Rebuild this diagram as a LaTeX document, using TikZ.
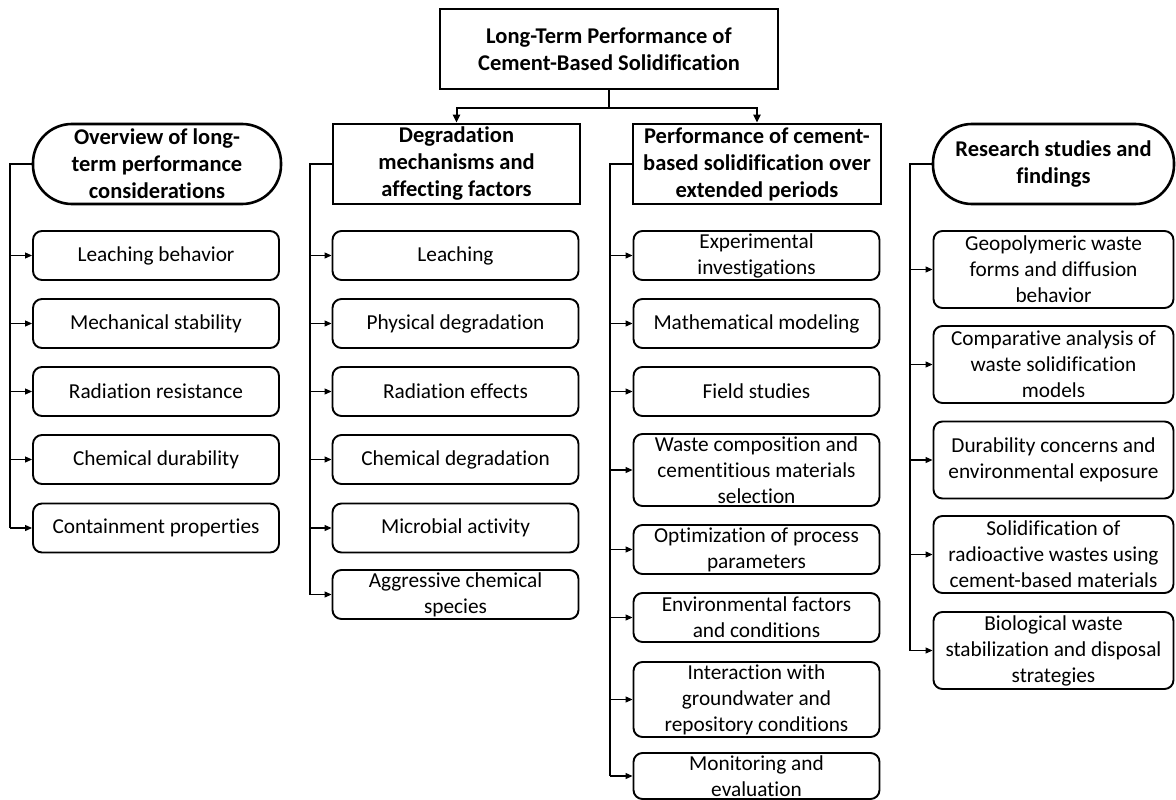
\documentclass[tikz,border=0pt]{standalone}
\usepackage{fontspec}
\setmainfont{Carlito}[Ligatures={NoCommon}]
\usetikzlibrary{arrows.meta}
\tikzset{
  hdr/.style={draw, line width=2.6pt, minimum height=80pt, inner sep=0pt, align=center,
    font=\fontsize{22.5}{27}\selectfont\bfseries},
  topbox/.style={hdr, minimum width=338pt},
  sqhdr/.style={hdr},
  pill/.style={hdr, rounded corners=39pt},
  child/.style={draw, line width=1.9pt, rounded corners=9pt, inner sep=0pt, align=center,
    font=\fontsize{21.3}{26}\selectfont},
  conn/.style={line width=1.1pt},
  arr/.style={line width=1.1pt, -{Triangle[length=7pt,width=6pt]}},
  toparr/.style={line width=2pt, -{Triangle[length=8pt,width=7pt]}}
}
\begin{document}
\begin{tikzpicture}[x=1pt,y=-1pt]
\useasboundingbox (0,0) rectangle (1176,800);

% top
\node[topbox] (top) at (609,49) {Long-Term Performance of\\Cement-Based Solidification};

% headers
\node[pill, minimum width=248pt] (h1) at (157,164) {Overview of long-\\term performance\\considerations};
\node[sqhdr, minimum width=247pt] (h2) at (456.5,164) {Degradation\\mechanisms and\\affecting factors};
\node[sqhdr, minimum width=248pt] (h3) at (757,164) {Performance of cement-\\based solidification over\\extended periods};
\node[pill, minimum width=241pt] (h4) at (1053.5,164) {Research studies and\\findings};

% top connectors
\draw[line width=2pt] (top.south) -- ++(0,18) coordinate (j);
\draw[toparr] (j) -| (h2.north);
\draw[toparr] (j) -| (h3.north);

% columns 1-3
\begin{scope}[every node/.style={child, minimum width=246pt, minimum height=49pt}]
\node (c1a) at (156,255.5) {Leaching behavior};
\node (c1b) at (156,323.5) {Mechanical stability};
\node (c1c) at (156,391.5) {Radiation resistance};
\node (c1d) at (156,459.5) {Chemical durability};
\node (c1e) at (156,528) {Containment properties};
% column 2
\node (c2a) at (455.5,255.5) {Leaching};
\node (c2b) at (455.5,323.5) {Physical degradation};
\node (c2c) at (455.5,391.5) {Radiation effects};
\node (c2d) at (455.5,459.5) {Chemical degradation};
\node (c2e) at (455.5,528) {Microbial activity};
\node (c2f) at (455.5,594.5) {Aggressive chemical\\species};
% column 3
\node (c3a) at (756.5,255.5) {Experimental\\investigations};
\node (c3b) at (756.5,323.5) {Mathematical modeling};
\node (c3c) at (756.5,391.5) {Field studies};
\node[minimum height=72pt] (c3d) at (756.5,470) {Waste composition and\\cementitious materials\\selection};
\node (c3e) at (756.5,549.5) {Optimization of process\\parameters};
\node (c3f) at (756.5,617.5) {Environmental factors\\and conditions};
\node[minimum height=75pt] (c3g) at (756.5,699.5) {Interaction with\\groundwater and\\repository conditions};
\node[minimum height=46pt] (c3h) at (756.5,776) {Monitoring and\\evaluation};
\end{scope}
% column 4
\begin{scope}[every node/.style={child, minimum width=240pt, minimum height=77pt}]
\node (c4a) at (1053.5,269.5) {Geopolymeric waste\\forms and diffusion\\behavior};
\node (c4b) at (1053.5,364.5) {Comparative analysis of\\waste solidification\\models};
\node (c4c) at (1053.5,460) {Durability concerns and\\environmental exposure};
\node (c4d) at (1053.5,554.5) {Solidification of\\radioactive wastes using\\cement-based materials};
\node (c4e) at (1053.5,650.5) {Biological waste\\stabilization and disposal\\strategies};
\end{scope}

% bracket coordinates
\coordinate (b1) at (10,0);
\coordinate (b2) at (310,0);
\coordinate (b3) at (610,0);
\coordinate (b4) at (910,0);

% column 1 connectors
\draw[conn] (h1.west) -- (h1.west -| b1) -- (b1 |- c1e.west);
\foreach \n in {c1a,c1b,c1c,c1d,c1e} \draw[arr] (b1 |- \n.west) -- (\n.west);
% column 2
\draw[conn] (h2.west) -- (h2.west -| b2) -- (b2 |- c2f.west);
\foreach \n in {c2a,c2b,c2c,c2d,c2e,c2f} \draw[arr] (b2 |- \n.west) -- (\n.west);
% column 3
\draw[conn] (h3.west) -- (h3.west -| b3) -- (b3 |- c3h.west);
\foreach \n in {c3a,c3b,c3c,c3d,c3e,c3f,c3g,c3h} \draw[arr] (b3 |- \n.west) -- (\n.west);
% column 4
\draw[conn] (h4.west) -- (h4.west -| b4) -- (b4 |- c4e.west);
\foreach \n in {c4a,c4b,c4c,c4d,c4e} \draw[arr] (b4 |- \n.west) -- (\n.west);
\end{tikzpicture}
\end{document}
